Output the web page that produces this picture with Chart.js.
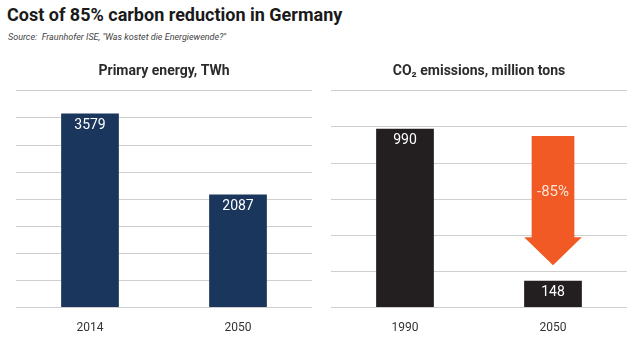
<!DOCTYPE html>
<html>
<head>
<meta charset="utf-8">
<script src="https://cdn.jsdelivr.net/npm/chart.js@4"></script>
<style>
    body { margin: 0; background: #ffffff; width: 633px; height: 339px; overflow: hidden; position: relative; font-family: Roboto, sans-serif; }
    #title { position: absolute; left: 7px; top: 4px; font-size: 18px; font-weight: 700; color: #1a1a1a; white-space: nowrap; }
    #source { position: absolute; left: 8px; top: 32px; font-size: 9px; font-style: italic; color: #444; white-space: nowrap; }
    .panel { position: absolute; top: 50px; height: 290px; }
    #left_panel { left: 0; width: 320px; }
    #right_panel { left: 315px; width: 318px; }
</style>
</head>
<body>
<div id="title">Cost of 85% carbon reduction in Germany</div>
<div id="source">Source:&nbsp; Fraunhofer ISE, "Was kostet die Energiewende?"</div>
<div class="panel" id="left_panel"><canvas id="energy_chart"></canvas></div>
<div class="panel" id="right_panel"><canvas id="co2_chart"></canvas></div>
<script>
// Primary energy, TWh
var energy_years = ['2014', '2050'];
var energy_values = [3579, 2087];

// CO2 emissions, million tons
var co2_years = ['1990', '2050'];
var co2_values = [990, 148];

// Arrow from 1990 level down to 2050 (value units).
var arrow_from = 950;
var arrow_head = 390;
var arrow_to = 235;
var arrow_text_at = 640;
var arrow_label = '-85%';

/**
 * Writes the value of each bar in white just below its top.
 */
const barValueLabels = {
    id: 'barValueLabels',
    afterDatasetsDraw(chart) {
        const ctx = chart.ctx;
        const meta = chart.getDatasetMeta(0);
        ctx.save();
        ctx.fillStyle = '#ffffff';
        ctx.font = '14px Roboto';
        ctx.textAlign = 'center';
        ctx.textBaseline = 'middle';
        meta.data.forEach((bar, i) => {
            ctx.fillText(String(chart.data.datasets[0].data[i]), bar.x, bar.y + 12);
        });
        ctx.restore();
    }
};

/**
 * Draws the orange arrow over the 2050 category of the CO2 chart.
 */
const reductionArrow = {
    id: 'reductionArrow',
    afterDatasetsDraw(chart) {
        if (chart.canvas.id !== 'co2_chart') {
            return;
        }
        const ctx = chart.ctx;
        const y = chart.scales.y;
        const bar = chart.getDatasetMeta(0).data[1];
        const half = bar.width / 2;
        const shaft = half * 0.74;
        const top = y.getPixelForValue(arrow_from);
        const head = y.getPixelForValue(arrow_head);
        const tip = y.getPixelForValue(arrow_to);

        ctx.save();
        ctx.fillStyle = '#f15a24';
        ctx.beginPath();
        ctx.moveTo(bar.x - shaft, top);
        ctx.lineTo(bar.x + shaft, top);
        ctx.lineTo(bar.x + shaft, head);
        ctx.lineTo(bar.x + half, head);
        ctx.lineTo(bar.x, tip);
        ctx.lineTo(bar.x - half, head);
        ctx.lineTo(bar.x - shaft, head);
        ctx.closePath();
        ctx.fill();

        ctx.fillStyle = '#fde3d6';
        ctx.font = '15px Roboto';
        ctx.textAlign = 'center';
        ctx.textBaseline = 'middle';
        ctx.fillText(arrow_label, bar.x, y.getPixelForValue(arrow_text_at));
        ctx.restore();
    }
};

/**
 * Builds one of the two bar panels.
 */
function make_chart(id, title, labels, values, color, max, step, pad_left, pad_right) {
    new Chart(document.getElementById(id), {
        type: 'bar',
        data: {
            labels: labels,
            datasets: [
                {
                    data: values,
                    backgroundColor: color,
                    borderWidth: 0,
                    barPercentage: 0.39,
                    categoryPercentage: 1.0
                }
            ]
        },
        options: {
            responsive: true,
            maintainAspectRatio: false,
            animation: false,
            layout: {
                padding: { left: pad_left, right: pad_right, top: 0, bottom: 0 }
            },
            scales: {
                x: {
                    grid: { display: false },
                    border: { display: false },
                    ticks: {
                        color: '#333333',
                        padding: 5,
                        font: { family: 'Roboto', size: 12 }
                    }
                },
                y: {
                    min: 0,
                    max: max,
                    border: { display: false },
                    grid: {
                        color: '#cfcfcf',
                        lineWidth: 1,
                        drawTicks: false
                    },
                    ticks: {
                        display: false,
                        stepSize: step
                    }
                }
            },
            plugins: {
                legend: { display: false },
                tooltip: { enabled: false },
                title: {
                    display: true,
                    text: title,
                    color: '#2b2b2b',
                    padding: { top: 13, bottom: 11 },
                    font: { family: 'Roboto', size: 14, weight: '700' }
                }
            }
        },
        plugins: [barValueLabels, reductionArrow]
    });
}

make_chart('energy_chart', 'Primary energy, TWh', energy_years, energy_values,
    '#1b365d', 4000, 500, 16, 8);
make_chart('co2_chart', 'CO\u2082 emissions, million tons', co2_years, co2_values,
    '#231f20', 1200, 200, 16, 6);
</script>
</body>
</html>
